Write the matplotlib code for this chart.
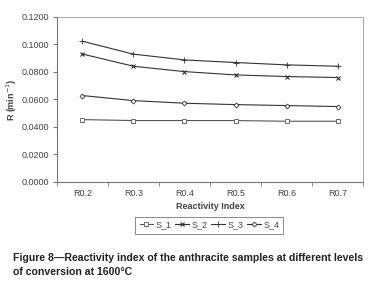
import matplotlib.pyplot as plt
import numpy as np

categories = ["R0.2", "R0.3", "R0.4", "R0.5", "R0.6", "R0.7"]
s1 = [0.0453, 0.0446, 0.0446, 0.0446, 0.0441, 0.0441]
s2 = [0.0930, 0.0841, 0.0802, 0.0778, 0.0766, 0.0759]
s3 = [0.1023, 0.0929, 0.0887, 0.0868, 0.0851, 0.0841]
s4 = [0.0628, 0.0591, 0.0572, 0.0562, 0.0555, 0.0548]
yticks = [0.0, 0.02, 0.04, 0.06, 0.08, 0.10, 0.12]

plt.rcParams["font.family"] = ["Liberation Sans", "DejaVu Sans"]

fig = plt.figure(figsize=(3.74, 2.86), dpi=100)
ax = fig.add_axes([0.152, 0.364, 0.819, 0.577])

x = np.arange(len(categories))
lc = "#333333"
ax.plot(x, s1, color="#555555", lw=0.8, marker="s", ms=3, mfc="white", mec="#555555", mew=0.6, label="S_1")
ax.plot(x, s2, color=lc, lw=0.8, marker="x", ms=3.5, mec=lc, mew=0.8, label="S_2")
ax.plot(x, s3, color=lc, lw=0.8, marker="+", ms=4, mec=lc, mew=0.6, label="S_3")
ax.plot(x, s4, color=lc, lw=0.8, marker="D", ms=2.5, mfc="white", mec=lc, mew=0.6, label="S_4")

ax.set_xlim(-0.5, len(categories) - 0.5)
ax.set_ylim(0, 0.12)
ax.set_yticks(yticks)
ax.set_yticklabels(["%.4f" % v for v in yticks])
ax.set_xticks(x)
ax.set_xticklabels(categories)
ax.set_xticks(np.arange(-0.5, len(categories), 1.0), minor=True)
ax.tick_params(axis="x", which="major", length=0, pad=5, labelsize=6.5, colors="#444444")
ax.tick_params(axis="x", which="minor", length=3, color="#777777", direction="out")
ax.tick_params(axis="y", length=3, pad=2.5, color="#777777", labelsize=6.5, labelcolor="#444444")

for side in ["top", "right"]:
    ax.spines[side].set_color("#999999")
    ax.spines[side].set_linewidth(0.6)
for side in ["left", "bottom"]:
    ax.spines[side].set_color("#777777")
    ax.spines[side].set_linewidth(0.8)

ax.set_xlabel("Reactivity Index", fontsize=6.5, fontweight="bold", color="#444444", labelpad=3)
ax.set_ylabel("R (min$^{-1}$)", fontsize=6.5, fontweight="bold", color="#444444", labelpad=2)

leg = fig.legend(loc="center", bbox_to_anchor=(0.56, 0.213), ncol=4, fontsize=6.5,
                 frameon=True, fancybox=False, edgecolor="#555555", handlelength=1.5,
                 handletextpad=0.3, columnspacing=0.4, borderpad=0.45)
leg.get_frame().set_linewidth(0.6)
for t in leg.get_texts():
    t.set_color("#444444")

fig.text(0.035, 0.075, "Figure 8\u2014Reactivity index of the anthracite samples at different levels\nof conversion at 1600\u00b0C",
         fontsize=7.6, fontweight="bold", color="#222222", va="center", ha="left", linespacing=1.5)

fig.savefig("out.png", dpi=100)
